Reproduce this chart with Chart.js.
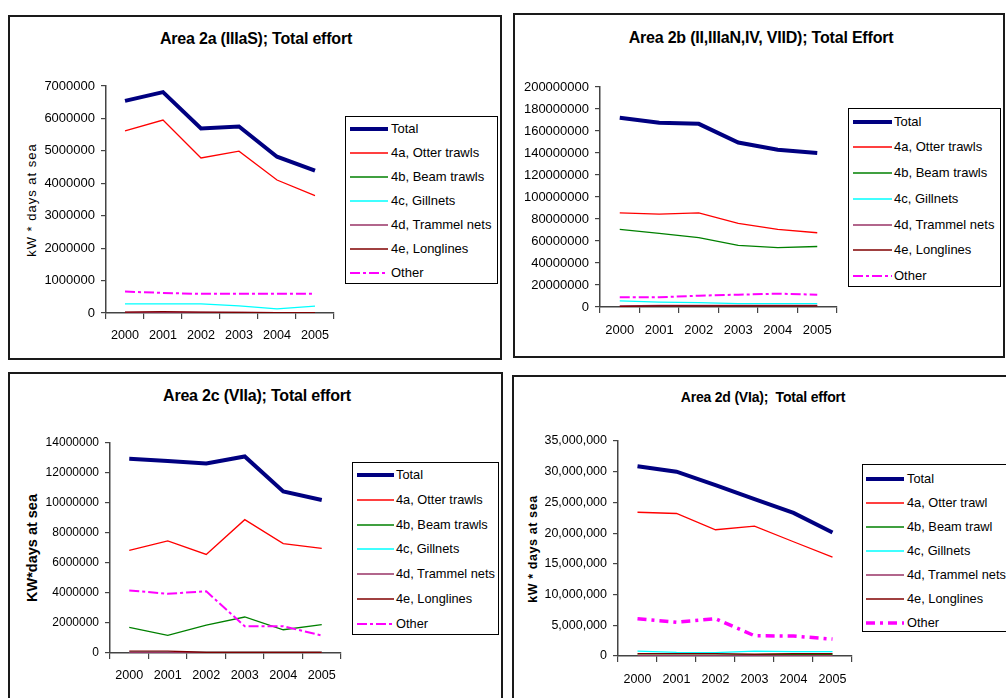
<!DOCTYPE html>
<html>
<head>
<meta charset="utf-8">
<title>Total effort by area</title>
<script src="https://cdn.jsdelivr.net/npm/chart.js@4.4.1/dist/chart.umd.min.js"></script>
<style>
    body {
        margin: 0;
        width: 1006px;
        height: 698px;
        overflow: hidden;
        position: relative;
        background: #fff;
        font-family: "Liberation Sans", Arial, sans-serif;
        color: #000;
    }
    .box { position: absolute; border: 2px solid #1a1a1a; box-sizing: border-box; }
    .title { position: absolute; width: 420px; text-align: center; font-weight: bold; line-height: 20px; white-space: pre; }
    .ytitle { position: absolute; width: 220px; height: 18px; line-height: 18px; text-align: center; white-space: nowrap; transform: rotate(-90deg); }
    .legend { position: absolute; border: 1.5px solid #000; box-sizing: border-box; background: #fff; }
    .legend span { position: absolute; white-space: nowrap; line-height: 16px; }
    .legend svg { position: absolute; left: 0; overflow: visible; }
    canvas { position: absolute; }
</style>
</head>
<body>
<script>
// Categories
const years = ["2000", "2001", "2002", "2003", "2004", "2005"];

// Legend names
const namesAB = ["Total", "4a, Otter trawls", "4b, Beam trawls", "4c, Gillnets", "4d, Trammel nets", "4e, Longlines", "Other"];
const namesD = ["Total", "4a, Otter trawl", "4b, Beam trawl", "4c, Gillnets", "4d, Trammel nets", "4e, Longlines", "Other"];

// Area 2a (IIIaS)
const a2aTotal = [6540000, 6810000, 5690000, 5750000, 4820000, 4390000];
const a2aOtter = [5620000, 5950000, 4780000, 4990000, 4100000, 3620000];
const a2aBeam = [10000, 10000, 10000, 10000, 5000, 5000];
const a2aGill = [280000, 280000, 280000, 220000, 130000, 210000];
const a2aTrammel = [20000, 20000, 20000, 15000, 10000, 10000];
const a2aLong = [30000, 40000, 30000, 20000, 10000, 10000];
const a2aOther = [660000, 620000, 590000, 590000, 590000, 590000];

// Area 2b (II, IIIaN, IV, VIId)
const a2bTotal = [172000000, 167500000, 166500000, 149500000, 143000000, 140000000];
const a2bOtter = [85500000, 84500000, 85500000, 76000000, 70500000, 67500000];
const a2bBeam = [70500000, 67000000, 63000000, 56000000, 54000000, 55000000];
const a2bGill = [5500000, 4500000, 4000000, 3000000, 3000000, 3000000];
const a2bTrammel = [1000000, 1500000, 1500000, 1500000, 1500000, 1500000];
const a2bLong = [500000, 1000000, 1000000, 1000000, 1000000, 1000000];
const a2bOther = [8800000, 8800000, 10300000, 11200000, 12100000, 11200000];

// Area 2c (VIIa)
const a2cTotal = [12950000, 12800000, 12640000, 13100000, 10770000, 10200000];
const a2cOtter = [6840000, 7470000, 6570000, 8890000, 7290000, 6970000];
const a2cBeam = [1710000, 1170000, 1860000, 2400000, 1550000, 1890000];
const a2cGill = [60000, 60000, 40000, 40000, 40000, 40000];
const a2cTrammel = [30000, 30000, 30000, 30000, 30000, 30000];
const a2cLong = [120000, 120000, 50000, 50000, 50000, 50000];
const a2cOther = [4170000, 3950000, 4110000, 1780000, 1780000, 1170000];

// Area 2d (VIa)
const a2dTotal = [30900000, 30000000, 27800000, 25550000, 23300000, 20100000];
const a2dOtter = [23400000, 23200000, 20550000, 21150000, 18600000, 16100000];
const a2dBeam = [150000, 150000, 150000, 200000, 250000, 250000];
const a2dGill = [800000, 600000, 550000, 800000, 700000, 700000];
const a2dTrammel = [50000, 50000, 50000, 50000, 50000, 50000];
const a2dLong = [400000, 400000, 400000, 300000, 400000, 400000];
const a2dOther = [6070000, 5500000, 6070000, 3300000, 3250000, 2750000];

const seriesColors = ["#000080", "#ff0000", "#008000", "#00ffff", "#993366", "#800000", "#ff00ff"];
const FONT = '"Liberation Sans", Arial, sans-serif';

function plain(v) { return String(v); }
function commas(v) { return v.toLocaleString("en-US"); }

const panels = [
    {
        title: "Area 2a (IIIaS); Total effort", titleX: 256, titleY: 39, titleSize: 16,
        box: [8, 15, 494, 345],
        canvas: [10, 60, 335, 297],
        area: [106, 86, 334, 313],
        max: 7000000, step: 1000000, fmt: plain, yFont: 13, xFont: 12.6, xPad: 9,
        ytitle: "kW * days at sea", ytX: 32, ytY: 200, ytSize: 13, ytBold: false, ytSpacing: 1,
        series: [a2aTotal, a2aOtter, a2aBeam, a2aGill, a2aTrammel, a2aLong, a2aOther],
        names: namesAB, otherWidth: 2, otherDash: [10, 3, 3, 3],
        legend: { l: 345, t: 116, w: 153, h: 168, first: 12, step: 24, x0: 4, x1: 42, tx: 45, size: 13 }
    },
    {
        title: "Area 2b (II,IIIaN,IV, VIID); Total Effort", titleX: 761, titleY: 38, titleSize: 16,
        box: [513, 13, 492, 345],
        canvas: [515, 60, 328, 296],
        area: [600, 87, 837, 307],
        max: 200000000, step: 20000000, fmt: plain, yFont: 13, xFont: 13, xPad: 10,
        ytitle: null,
        series: [a2bTotal, a2bOtter, a2bBeam, a2bGill, a2bTrammel, a2bLong, a2bOther],
        names: namesAB, otherWidth: 2, otherDash: [10, 3, 3, 3],
        legend: { l: 848, t: 108, w: 153, h: 179, first: 12.7, step: 25.7, x0: 4, x1: 43, tx: 45, size: 13 }
    },
    {
        title: "Area 2c (VIIa); Total effort", titleX: 257, titleY: 396, titleSize: 16,
        box: [8, 372, 495, 340],
        canvas: [10, 420, 338, 276],
        area: [110, 443, 341, 653],
        max: 14000000, step: 2000000, fmt: plain, yFont: 12, xFont: 12.6, xPad: 9,
        ytitle: "KW*days at sea", ytX: 32, ytY: 548, ytSize: 14.5, ytBold: true, ytSpacing: 0,
        series: [a2cTotal, a2cOtter, a2cBeam, a2cGill, a2cTrammel, a2cLong, a2cOther],
        names: namesAB, otherWidth: 2, otherDash: [10, 3, 3, 3],
        legend: { l: 352, t: 462, w: 147, h: 173, first: 11.7, step: 24.9, x0: 4, x1: 41, tx: 43, size: 12.8 }
    },
    {
        title: "Area 2d (VIa);  Total effort", titleX: 763, titleY: 397, titleSize: 14,
        box: [512, 375, 500, 340],
        canvas: [514, 420, 344, 276],
        area: [618, 441, 852, 656],
        max: 35000000, step: 5000000, fmt: commas, yFont: 12.5, xFont: 12.5, xPad: 10,
        ytitle: "kW * days at sea", ytX: 533, ytY: 549, ytSize: 12.5, ytBold: true, ytSpacing: 0.6,
        series: [a2dTotal, a2dOtter, a2dBeam, a2dGill, a2dTrammel, a2dLong, a2dOther],
        names: namesD, otherWidth: 3.5, otherDash: [9, 5, 3, 5],
        legend: { l: 862, t: 464, w: 160, h: 168, first: 13.7, step: 24.05, x0: 3, x1: 41, tx: 44, size: 12.8 }
    }
];

function lineWidthFor(p, i) {
    if (i === 0) return 4;
    if (i === 6) return p.otherWidth;
    return 1.3;
}

function addText(cls, text, styles) {
    const el = document.createElement("div");
    el.className = cls;
    el.textContent = text;
    Object.assign(el.style, styles);
    document.body.appendChild(el);
    return el;
}

function addLegend(p) {
    const lg = p.legend;
    const box = document.createElement("div");
    box.className = "legend";
    Object.assign(box.style, { left: lg.l + "px", top: lg.t + "px", width: lg.w + "px", height: lg.h + "px" });
    p.names.forEach((name, i) => {
        const y = lg.first + i * lg.step;
        const svgNS = "http://www.w3.org/2000/svg";
        const svg = document.createElementNS(svgNS, "svg");
        svg.setAttribute("width", lg.x1 + 2);
        svg.setAttribute("height", 10);
        svg.style.top = (y - 5) + "px";
        const ln = document.createElementNS(svgNS, "line");
        ln.setAttribute("x1", lg.x0);
        ln.setAttribute("x2", lg.x1);
        ln.setAttribute("y1", 5);
        ln.setAttribute("y2", 5);
        ln.setAttribute("stroke", seriesColors[i]);
        ln.setAttribute("stroke-width", lineWidthFor(p, i));
        if (i === 6) ln.setAttribute("stroke-dasharray", p.otherDash.join(" "));
        svg.appendChild(ln);
        box.appendChild(svg);

        const span = document.createElement("span");
        span.textContent = name;
        Object.assign(span.style, { left: lg.tx + "px", top: (y - 8) + "px", fontSize: lg.size + "px" });
        box.appendChild(span);
    });
    document.body.appendChild(box);
}

function makePanel(p) {
    const [bl, bt, bw, bh] = p.box;
    const frame = document.createElement("div");
    frame.className = "box";
    Object.assign(frame.style, { left: bl + "px", top: bt + "px", width: bw + "px", height: bh + "px" });
    document.body.appendChild(frame);

    addText("title", p.title, {
        left: (p.titleX - 210) + "px", top: (p.titleY - 10) + "px", fontSize: p.titleSize + "px",
        letterSpacing: "-0.2px"
    });

    if (p.ytitle) {
        addText("ytitle", p.ytitle, {
            left: (p.ytX - 110) + "px", top: (p.ytY - 9) + "px", fontSize: p.ytSize + "px",
            fontWeight: p.ytBold ? "bold" : "normal", letterSpacing: p.ytSpacing + "px"
        });
    }

    const [cl, ct, cw, ch] = p.canvas;
    const [ax0, ay0, ax1, ay1] = p.area;
    const xAxisH = 36;
    const canvas = document.createElement("canvas");
    canvas.width = cw;
    canvas.height = ch;
    canvas.style.left = cl + "px";
    canvas.style.top = ct + "px";
    document.body.appendChild(canvas);

    const datasets = p.series.map((values, i) => ({
        label: p.names[i],
        data: values,
        borderColor: seriesColors[i],
        backgroundColor: seriesColors[i],
        borderWidth: lineWidthFor(p, i),
        borderDash: i === 6 ? p.otherDash : [],
        pointRadius: 0,
        tension: 0,
        fill: false,
        order: p.series.length - i
    }));

    new Chart(canvas.getContext("2d"), {
        type: "line",
        data: { labels: years, datasets: datasets },
        options: {
            responsive: false,
            animation: false,
            layout: {
                padding: { left: 0, top: ay0 - ct, right: cl + cw - ax1, bottom: ct + ch - ay1 - xAxisH }
            },
            plugins: { legend: { display: false }, tooltip: { enabled: false }, title: { display: false } },
            scales: {
                x: {
                    offset: true,
                    grid: { offset: true, drawOnChartArea: false, drawTicks: true, tickLength: 6, color: "#444", lineWidth: 1.2 },
                    border: { color: "#444", width: 1.5 },
                    ticks: { font: { family: FONT, size: p.xFont }, color: "#000", padding: p.xPad, maxRotation: 0, autoSkip: false },
                    afterFit: (s) => { s.height = xAxisH; }
                },
                y: {
                    min: 0,
                    max: p.max,
                    grid: { drawOnChartArea: false, drawTicks: true, tickLength: 5, color: "#444", lineWidth: 1.2 },
                    border: { color: "#444", width: 1.5 },
                    ticks: { stepSize: p.step, callback: p.fmt, font: { family: FONT, size: p.yFont }, color: "#000", padding: 6, autoSkip: false },
                    afterFit: (s) => { s.width = ax0 - cl; }
                }
            }
        }
    });

    addLegend(p);
}

panels.forEach(makePanel);
</script>
</body>
</html>
